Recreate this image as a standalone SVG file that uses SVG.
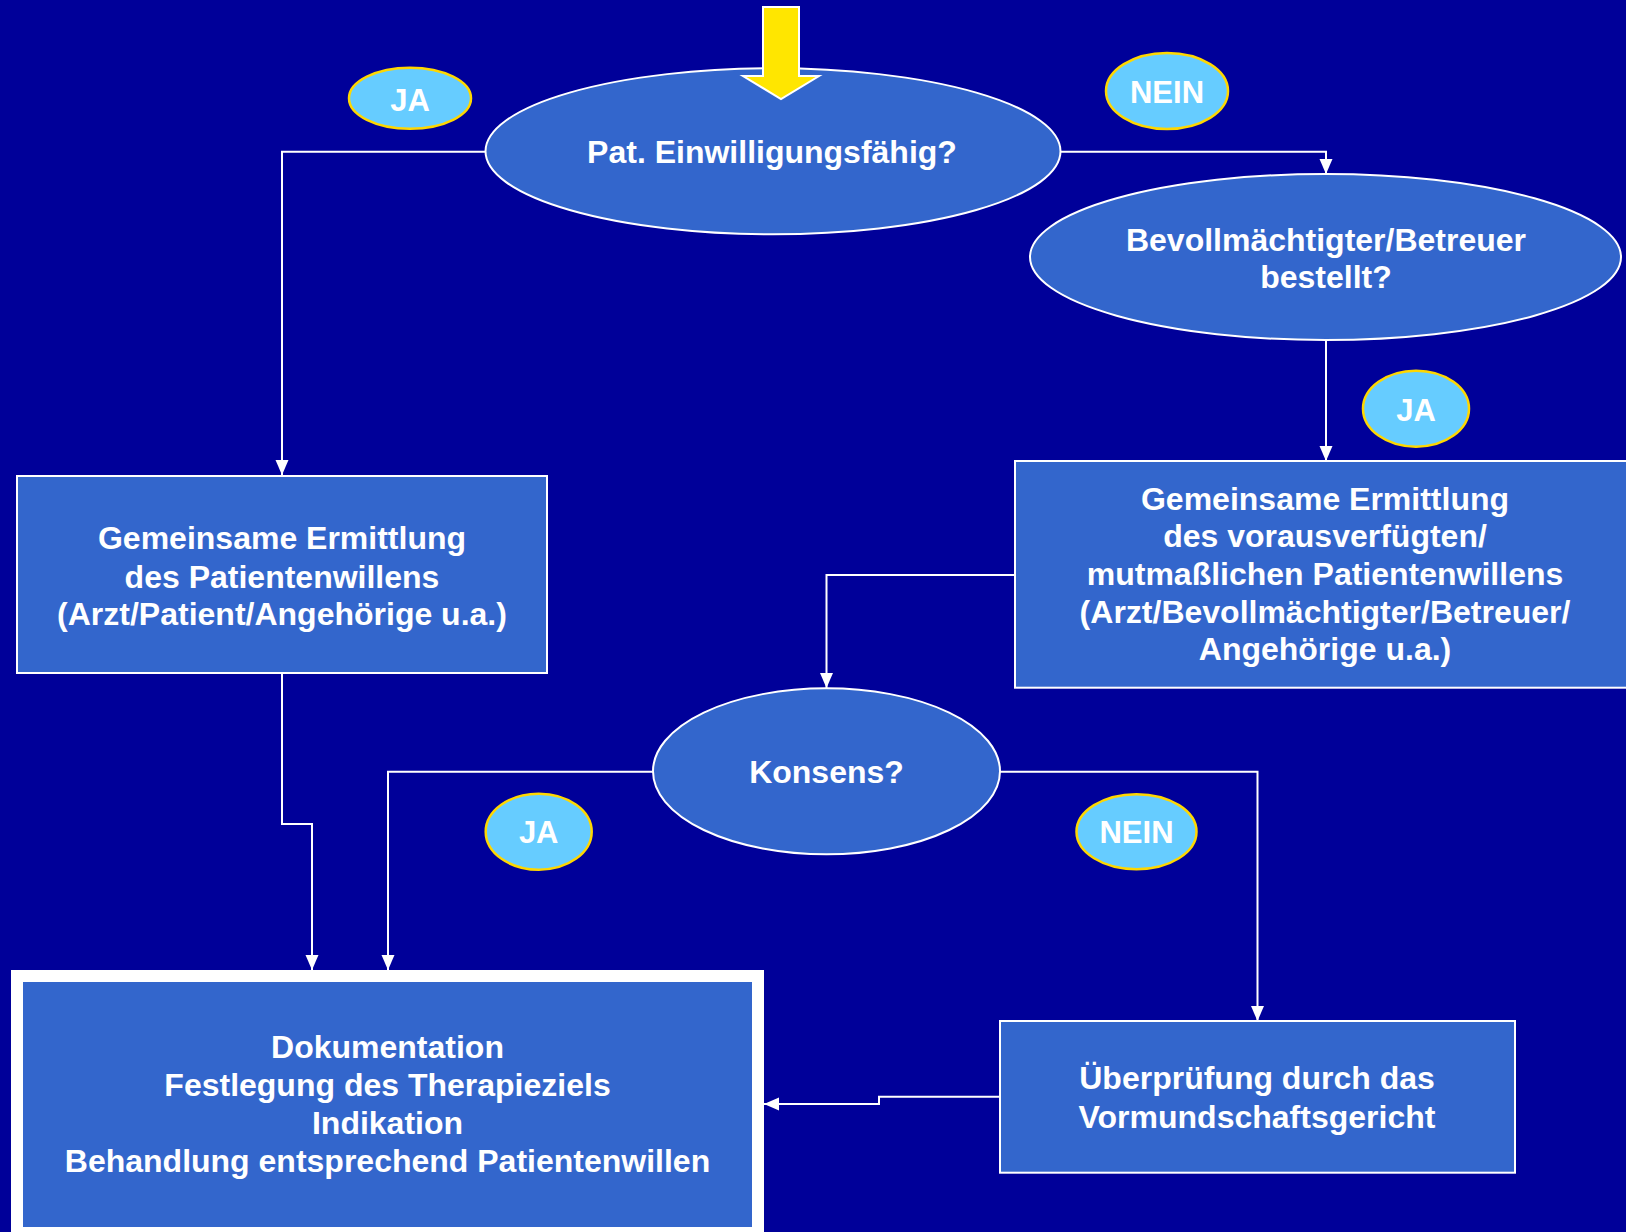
<svg xmlns="http://www.w3.org/2000/svg" width="1626" height="1232" viewBox="0 0 1626 1232">
<defs>
<style>
.node{fill:#3366CC;stroke:#FFFFFF;stroke-width:2}
.badge{fill:#66CCFF;stroke:#FFD700;stroke-width:2.5}
.t{font-family:"Liberation Sans",Arial,sans-serif;font-weight:bold;font-size:32px;fill:#FFFFFF;text-anchor:middle}
.bt{font-family:"Liberation Sans",Arial,sans-serif;font-weight:bold;font-size:31px;fill:#FFFFFF;text-anchor:middle}
.c{fill:none;stroke:#FFFFFF;stroke-width:2;marker-end:url(#ah)}
</style>
<marker id="ah" markerUnits="userSpaceOnUse" markerWidth="16" markerHeight="14" refX="15" refY="6.5" orient="auto">
<path d="M0,0 L15,6.5 L0,13 z" fill="#FFFFFF"/>
</marker>
</defs>
<rect x="0" y="0" width="1626" height="1232" fill="#000099"/>

<g id="connectors">
<path class="c" d="M486,151.7 H282 V475"/>
<path class="c" d="M1060.6,151.7 H1326 V174"/>
<path class="c" d="M1326,340 V461"/>
<path class="c" d="M1015,575 H826.5 V688"/>
<path class="c" d="M282,673 V824 H312 V970"/>
<path class="c" d="M653,771.7 H388 V970"/>
<path class="c" d="M1000,771.7 H1257.5 V1021"/>
<path class="c" d="M1000,1096.7 H879 V1104 H764"/>
</g>

<g id="n-einwilligung">
<ellipse class="node" cx="773" cy="151.3" rx="287.5" ry="83"/>
<text class="t" x="772" y="163">Pat. Einwilligungsfähig?</text>
</g>

<g id="start-arrow">
<polygon points="763,7 799,7 799,76 819,76 781,99 743,76 763,76" fill="#FFE600" stroke="#FFFFFF" stroke-width="2"/>
</g>

<g id="n-bevollmaechtigter">
<ellipse class="node" cx="1325.5" cy="257" rx="295.5" ry="83"/>
<text class="t" x="1326" y="250.7">Bevollmächtigter/Betreuer</text>
<text class="t" x="1326" y="288.3">bestellt?</text>
</g>

<g id="n-ermittlung-links">
<rect class="node" x="17" y="476" width="530" height="197"/>
<text class="t" x="282" y="549.3">Gemeinsame Ermittlung</text>
<text class="t" x="282" y="587.5">des Patientenwillens</text>
<text class="t" x="282" y="625">(Arzt/Patient/Angehörige u.a.)</text>
</g>

<g id="n-ermittlung-rechts">
<rect class="node" x="1015" y="461" width="620" height="226.7"/>
<text class="t" x="1325" y="510">Gemeinsame Ermittlung</text>
<text class="t" x="1325" y="547.3">des vorausverfügten/</text>
<text class="t" x="1325" y="585">mutmaßlichen Patientenwillens</text>
<text class="t" x="1325" y="622.7">(Arzt/Bevollmächtigter/Betreuer/</text>
<text class="t" x="1325" y="660">Angehörige u.a.)</text>
</g>

<g id="n-konsens">
<ellipse class="node" cx="826.5" cy="771.3" rx="173.5" ry="83"/>
<text class="t" x="826.5" y="783">Konsens?</text>
</g>

<g id="n-dokumentation">
<rect x="17" y="976" width="741" height="257" fill="#3366CC" stroke="#FFFFFF" stroke-width="12"/>
<text class="t" x="387.5" y="1058.3">Dokumentation</text>
<text class="t" x="387.5" y="1096">Festlegung des Therapieziels</text>
<text class="t" x="387.5" y="1134.3">Indikation</text>
<text class="t" x="387.5" y="1172.3">Behandlung entsprechend Patientenwillen</text>
</g>

<g id="n-ueberpruefung">
<rect class="node" x="1000" y="1021" width="515" height="151.7"/>
<text class="t" x="1257" y="1089.3">Überprüfung durch das</text>
<text class="t" x="1257" y="1127.7">Vormundschaftsgericht</text>
</g>

<g id="b-ja1">
<ellipse class="badge" cx="410" cy="98.3" rx="61" ry="30.5"/>
<text class="bt" x="410" y="110.7">JA</text>
</g>
<g id="b-nein1">
<ellipse class="badge" cx="1167" cy="91" rx="61" ry="38"/>
<text class="bt" x="1167" y="103.3">NEIN</text>
</g>
<g id="b-ja2">
<ellipse class="badge" cx="1416" cy="408.7" rx="53" ry="38"/>
<text class="bt" x="1416" y="421">JA</text>
</g>
<g id="b-ja3">
<ellipse class="badge" cx="538.7" cy="831.7" rx="53" ry="38"/>
<text class="bt" x="538.7" y="843.3">JA</text>
</g>
<g id="b-nein2">
<ellipse class="badge" cx="1136.5" cy="831.7" rx="60" ry="37.5"/>
<text class="bt" x="1136.5" y="843.3">NEIN</text>
</g>
</svg>
